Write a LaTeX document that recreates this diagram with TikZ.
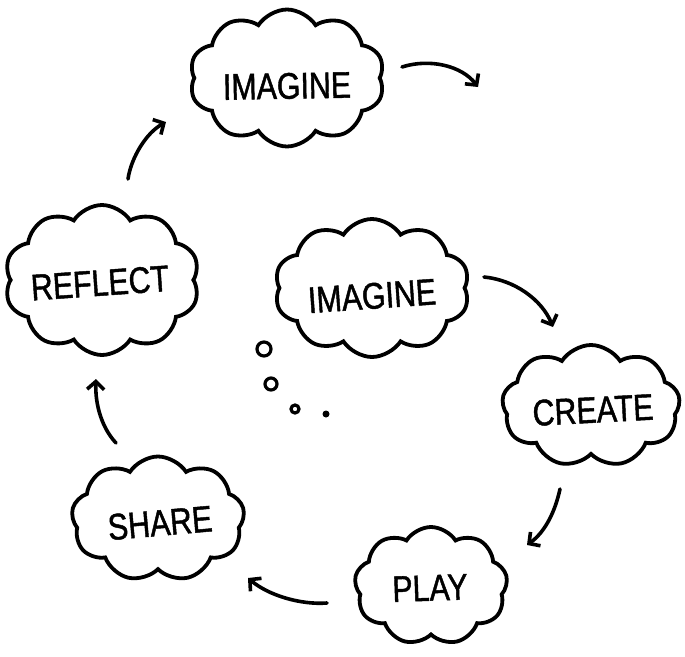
\documentclass[tikz,border=0pt]{standalone}
\usepackage{fontspec}
\setmainfont{Liberation Sans}
\newfontfamily\handfont[FakeStretch=0.82, FakeBold=1.2]{Liberation Sans}
\usetikzlibrary{shapes.symbols,arrows.meta}
\tikzset{
  cloudbox/.style={draw=black, line width=3.8pt, shape=cloud, cloud puffs=10,
    cloud puff arc=115, cloud ignores aspect, inner sep=0pt, fill=white},
  word/.style={font=\handfont\fontsize{37}{40}\selectfont, inner sep=0pt, text=black},
  flow/.style={line width=3.6pt, line cap=round, line join=round,
    -{Straight Barb[length=8pt,width=17pt,line width=3.6pt]}},
  bubble/.style={draw=black, line width=3.2pt, circle, inner sep=0pt}
}
\begin{document}
\begin{tikzpicture}[x=1pt,y=-1pt]
\useasboundingbox (0,0) rectangle (685,656);
% clouds
\node[cloudbox, minimum width=195pt, minimum height=137pt] (c1) at (287,78) {};
\node[word, rotate=1] (t1) at (287,86) {IMAGINE};
\node[cloudbox, minimum width=195pt, minimum height=138pt] (c2) at (372,288) {};
\node[word, rotate=4] (t2) at (372,296) {IMAGINE};
\node[cloudbox, minimum width=195pt, minimum height=150pt] (c3) at (102,280) {};
\node[word, rotate=4] (t3) at (100,283) {REFLECT};
\node[cloudbox, minimum width=178pt, minimum height=122pt, cloud puffs=9] (c4) at (591,406) {};
\node[word, rotate=3] (t4) at (593,410) {CREATE};
\node[cloudbox, minimum width=153pt, minimum height=118pt, cloud puffs=9] (c5) at (431,586) {};
\node[word, rotate=2] (t5) at (430,588) {PLAY};
\node[cloudbox, minimum width=173pt, minimum height=125pt, cloud puffs=9] (c6) at (158,519) {};
\node[word, rotate=5] (t6) at (160,523) {SHARE};
% thought bubbles
\node[bubble, minimum size=14pt] (b1) at (264,349) {};
\node[bubble, minimum size=12pt] (b2) at (271,384) {};
\node[bubble, minimum size=8pt] (b3) at (295,409) {};
\node[circle, fill=black, inner sep=0pt, minimum size=7pt] (b4) at (326,414) {};
% arrow end points
\coordinate (a1s) at (402,67);  \coordinate (a1e) at (478,87);
\coordinate (a2s) at (484,277); \coordinate (a2e) at (553,327);
\coordinate (a3s) at (560,489); \coordinate (a3e) at (527,545);
\coordinate (a4s) at (327,603); \coordinate (a4e) at (248,578);
\coordinate (a5s) at (116,443); \coordinate (a5e) at (96,379);
\coordinate (a6s) at (128,179); \coordinate (a6e) at (166,122);
% arrows
\draw[flow] (a1s) .. controls (430,58) and (462,66) .. (a1e);
\draw[flow] (a2s) .. controls (515,280) and (542,300) .. (a2e);
\draw[flow] (a3s) .. controls (555,512) and (545,532) .. (a3e);
\draw[flow] (a4s) .. controls (300,605) and (268,595) .. (a4e);
\draw[flow] (a5s) .. controls (102,428) and (95,405) .. (a5e);
\draw[flow] (a6s) .. controls (131,158) and (146,133) .. (a6e);
\end{tikzpicture}
\end{document}
